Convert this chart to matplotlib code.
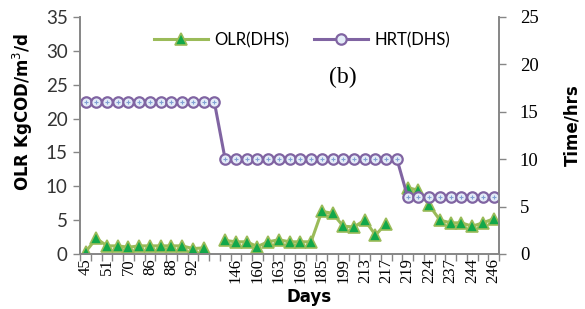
import numpy as np
import matplotlib.pyplot as plt

# category labels (every other day shown on the axis)
day_labels = ['45', '51', '70', '86', '88', '92', '', '146', '160', '163',
              '169', '185', '199', '213', '217', '219', '224', '237', '244', '246']

nan = np.nan
olr = [0.3, 2.3, 1.2, 1.2, 1.0, 1.2, 1.2, 1.2, 1.2, 1.2, 0.8, 0.9, nan,
       2.0, 1.8, 1.8, 1.1, 1.8, 2.1, 1.8, 1.8, 1.8, 6.3, 6.0, 4.1, 4.0,
       5.0, 2.8, 4.5, nan, 9.8, 9.4, 7.2, 5.0, 4.6, 4.6, 4.1, 4.6, 5.2]
hrt = [16]*13 + [10]*17 + [6]*9

x = np.arange(len(olr))

fig = plt.figure(figsize=(5.85, 3.09), dpi=100)
ax = fig.add_axes([0.137, 0.178, 0.716, 0.767])
ax2 = ax.twinx()

grey = '#868686'

l1, = ax.plot(x, olr, color='#9BBB59', lw=2.2, marker='^', ms=8,
              mfc='#12A84A', mec='#9BBB59', mew=1.2, label='OLR(DHS)')
l2, = ax2.plot(x, hrt, color='#8064A2', lw=2.2, marker='o', ms=7.5,
               mfc='#E4ECF8', mec='#8064A2', mew=1.6, label='HRT(DHS)')
ax2.plot(x, hrt, ls='none', marker='+', ms=3.5, mew=0.8, color='#7F9FD3')

ax.set_xlim(-0.5, len(olr) - 0.5)
ax.set_ylim(0, 35)
ax2.set_ylim(0, 25)
ax.set_yticks(np.arange(0, 36, 5))
ax2.set_yticks(np.arange(0, 26, 5))

ax.set_xticks(x[::2])
ax.set_xticklabels(day_labels, rotation=90, family='Liberation Serif', fontsize=12)
ax.set_xticks(np.arange(-0.5, len(olr)), minor=True)
ax.tick_params(axis='x', which='major', length=0, pad=3)
ax.tick_params(axis='x', which='minor', length=5, color=grey, width=1)
ax.tick_params(axis='y', length=5, color=grey, width=1, labelsize=13.5, pad=4)
for t in ax.get_yticklabels():
    t.set_family('Lato')
    t.set_color('#333333')
ax2.tick_params(axis='y', length=5, color=grey, width=1, labelsize=13.5, pad=10)
for t in ax2.get_yticklabels():
    t.set_family('Liberation Serif')

for a in (ax, ax2):
    a.spines['top'].set_visible(False)
    for s in ('left', 'right', 'bottom'):
        a.spines[s].set_color(grey)
        a.spines[s].set_linewidth(1.2)
    a.set_facecolor('none')

ax.set_ylabel('OLR KgCOD/m$^3$/d', fontsize=12, fontweight='bold')
ax.yaxis.set_label_coords(-0.107, 0.6)
ax2.set_ylabel('Time/hrs', fontsize=12, fontweight='bold')
ax2.yaxis.set_label_coords(1.153, 0.544)
ax.set_xlabel('Days', fontsize=12, fontweight='bold')
ax.xaxis.set_label_coords(0.547, -0.143)
fig.text(-0.012, 0.69, 'Time/hr', rotation=90, fontsize=12, fontweight='bold',
         ha='center', va='center')

ax.text(0.627, 0.743, '(b)', transform=ax.transAxes, family='Liberation Serif',
        fontsize=17, ha='center', va='center')

leg = ax.legend(handles=[l1, l2], loc='upper center', bbox_to_anchor=(0.53, 1.0),
                ncol=2, frameon=False, fontsize=12, handlelength=3.2,
                columnspacing=1.5, handletextpad=0.4)
for t in leg.get_texts():
    t.set_family('Lato')

fig.savefig('out.png', dpi=100)
